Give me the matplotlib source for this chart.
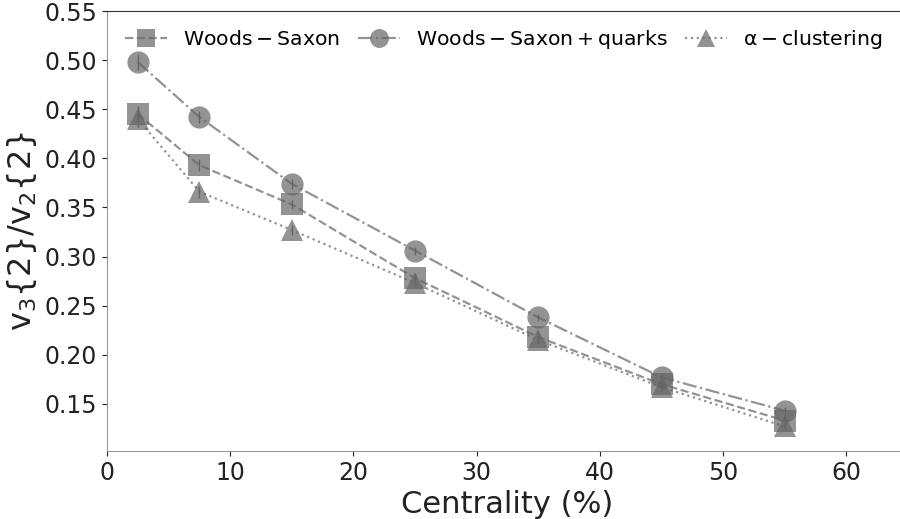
import matplotlib
matplotlib.use("Agg")
import matplotlib.pyplot as plt

centrality = [2.5, 7.5, 15, 25, 35, 45, 55]
ws = [0.445, 0.393, 0.353, 0.278, 0.218, 0.170, 0.133]
ws_err = [0.008, 0.006, 0.005, 0.004, 0.004, 0.004, 0.004]
wsq = [0.498, 0.442, 0.374, 0.306, 0.238, 0.177, 0.143]
wsq_err = [0.008, 0.006, 0.005, 0.004, 0.004, 0.004, 0.004]
alpha_c = [0.440, 0.366, 0.327, 0.273, 0.215, 0.167, 0.127]
alpha_err = [0.008, 0.006, 0.005, 0.004, 0.004, 0.004, 0.004]
labels = [r"$\mathrm{Woods-Saxon}$", r"$\mathrm{Woods-Saxon+quarks}$", r"$\mathrm{\alpha-clustering}$"]

plt.rcParams['font.family'] = ['DejaVu Sans']
plt.rcParams['mathtext.fontset'] = 'dejavusans'

fig = plt.figure(figsize=(9, 5.19), dpi=100)
ax = fig.add_axes([107/900, 1-451/519, 801/900, 440/519])

col = '#666666'
handles = []
for y, e, m, ls, lab in [(ws, ws_err, 's', '--', labels[0]),
                         (wsq, wsq_err, 'o', '-.', labels[1]),
                         (alpha_c, alpha_err, '^', ':', labels[2])]:
    c = ax.errorbar(centrality, y, yerr=e, fmt=m, linestyle=ls, color=col, alpha=0.7,
                    markersize=16, markeredgewidth=0, ecolor='#222222', elinewidth=1,
                    linewidth=1.6, label=lab)
    handles.append(c.lines[0])

ax.set_xlim(0, 65)
ax.set_ylim(0.102, 0.55)
ax.set_xticks([0, 10, 20, 30, 40, 50, 60])
ax.set_yticks([0.15, 0.20, 0.25, 0.30, 0.35, 0.40, 0.45, 0.50, 0.55])
ax.set_yticklabels([f"{v:.2f}" for v in [0.15, 0.20, 0.25, 0.30, 0.35, 0.40, 0.45, 0.50, 0.55]])
ax.tick_params(labelsize=17, colors='#222222')
ax.spines['left'].set_color('#999999')
ax.spines['bottom'].set_color('#999999')
ax.spines['top'].set_color('#333333')
ax.spines['right'].set_visible(False)
ax.set_xlabel("Centrality (%)", fontsize=22, color='#222222')
ax.set_ylabel(r"$\mathrm{v_3\{2\}/v_2\{2\}}$", fontsize=23, color='#222222')

ax.legend(handles, labels, loc='upper left', ncol=3, frameon=False, fontsize=14.7,
          bbox_to_anchor=(0.0225, 0.962), borderaxespad=0, borderpad=0,
          handlelength=2.06, columnspacing=0.88, handletextpad=0.78, markerscale=0.85)

fig.savefig("out.png", dpi=100)
